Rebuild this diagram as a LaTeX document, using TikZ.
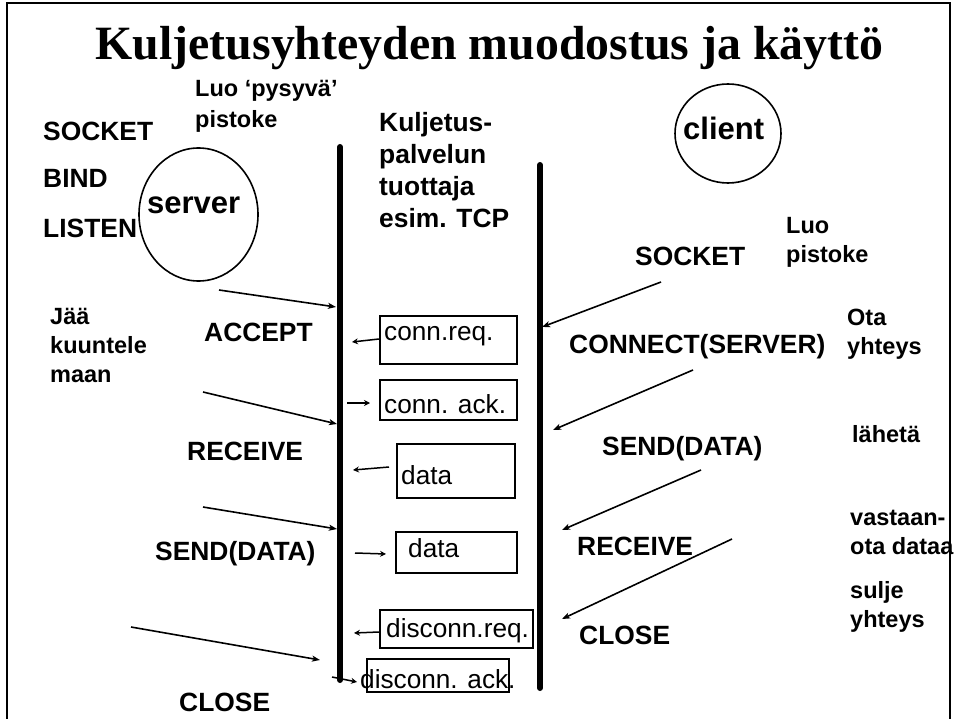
\documentclass[tikz,border=0pt]{standalone}
\usepackage{fontspec}
\setmainfont{Liberation Sans}
\newfontfamily\titlefont{Liberation Serif}
\usetikzlibrary{arrows.meta,shapes.geometric}
\tikzset{
  lab/.style={font=\bfseries\fontsize{26.4}{31.7}\selectfont, inner sep=0pt, anchor=base west, align=left},
  note/.style={font=\bfseries\fontsize{23.5}{29}\selectfont, inner sep=0pt, anchor=base west, align=left},
  role/.style={font=\bfseries\fontsize{31}{36}\selectfont, inner sep=0pt, anchor=base west},
  boxtxt/.style={font=\fontsize{26.2}{30}\selectfont, inner sep=0pt, anchor=base west},
  msgbox/.style={draw, line width=1.8pt, inner sep=0pt, anchor=north west},
  party/.style={draw, ellipse, line width=1.6pt, inner sep=0pt},
  stem/.style={line width=6pt, line cap=round},
  wire/.style={line width=1.6pt, -{Stealth[length=8pt,width=6pt,inset=2pt]}},
  tick/.style={line width=1.5pt, -{Stealth[length=6pt,width=6pt,inset=2pt]}},
}
\begin{document}
\begin{tikzpicture}[x=1pt,y=-1pt]
\useasboundingbox (0,0) rectangle (957,719);
% frame
\draw[line width=2pt] (7,730) -- (7,3) -- (950,3) -- (950,730);
% title
\node[font=\titlefont\bfseries\fontsize{47.8}{52}\selectfont, inner sep=0pt, anchor=base] (title) at (489.5,60) {Kuljetusyhteyden muodostus ja käyttö};
% parties
\node[party, minimum width=119pt, minimum height=133pt] (srv) at (198.5,214.5) {};
\node[role] (srvtxt) at (147,214) {server};
\node[party, minimum width=106pt, minimum height=99pt] (cli) at (728,133.5) {};
\node[role] (clitxt) at (683,140) {client};
% transport provider lines
\coordinate (ltop) at (340,147);
\coordinate (lbot) at (340,680);
\coordinate (rtop) at (540,165);
\coordinate (rbot) at (540,688);
\draw[stem] (ltop) -- (lbot);
\draw[stem] (rtop) -- (rbot);
% left labels (multi-line nodes are placed by the baseline of their last line)
\node[lab] (sock1) at (43,141) {SOCKET};
\node[lab] (bind) at (43,188) {BIND};
\node[lab] (listen) at (43,237) {LISTEN};
\node[note] (luo1) at (195,97) {Luo ‘pysyvä’};
\node[note] (pist1) at (195,128) {pistoke};
\node[lab] (kulj) at (379,227) {Kuljetus-\\palvelun\\tuottaja\\esim. TCP};
\node[note] (jaa) at (50,382) {Jää\\kuuntele\\maan};
\node[lab] (accept) at (204,341) {ACCEPT};
\node[lab] (recv1) at (187,460) {RECEIVE};
\node[lab] (send1) at (155,560) {SEND(DATA)};
\node[lab] (close1) at (179,711) {CLOSE};
% right labels
\node[lab] (sock2) at (635,265) {SOCKET};
\node[note] (luo2) at (786,262) {Luo\\pistoke};
\node[lab] (conn) at (569,353) {CONNECT(SERVER)};
\node[note] (ota) at (847,354) {Ota\\yhteys};
\node[lab] (send2) at (602,455) {SEND(DATA)};
\node[note] (laheta) at (852,442) {lähetä};
\node[lab] (recv2) at (577,555) {RECEIVE};
\node[note] (vast) at (850,554) {vastaan-\\ota dataa};
\node[lab] (close2) at (579,644) {CLOSE};
\node[note] (sulje) at (850,627) {sulje\\yhteys};
% message boxes
\node[msgbox, minimum width=137pt, minimum height=48pt] (reqbox) at (379,315) {};
\node[boxtxt] (reqtxt) at (384,340) {conn.req.};
\node[msgbox, minimum width=137pt, minimum height=40pt] (ackbox) at (379,379) {};
\node[boxtxt] (acktxt) at (384,413) {conn. ack.};
\node[msgbox, minimum width=118pt, minimum height=54pt] (d1box) at (396,443) {};
\node[boxtxt] (d1txt) at (401,484) {data};
\node[msgbox, minimum width=121pt, minimum height=41pt] (d2box) at (395,531) {};
\node[boxtxt] (d2txt) at (408,557) {data};
\node[msgbox, minimum width=153pt, minimum height=38pt] (dreqbox) at (379,609) {};
\node[boxtxt] (dreqtxt) at (386,637) {disconn.req.};
\node[msgbox, minimum width=142pt, minimum height=33pt] (dackbox) at (366,658) {};
\node[boxtxt] (dacktxt) at (360,688) {disconn. ack.};
% small arrows between boxes and provider
\coordinate (t1) at (352,342);
\coordinate (t2a) at (347,403);
\coordinate (t2b) at (370,403);
\coordinate (t3a) at (389,467);
\coordinate (t3b) at (353,470);
\coordinate (t4a) at (355,553);
\coordinate (t4b) at (386,554);
\coordinate (t5a) at (379,632);
\coordinate (t5b) at (354,633);
\coordinate (t6a) at (332,677);
\coordinate (t6b) at (357,682);
\draw[tick] (reqbox.west |- 0,339) -- (t1);
\draw[tick] (t2a) -- (t2b);
\draw[tick] (t3a) -- (t3b);
\draw[tick] (t4a) -- (t4b);
\draw[tick] (t5a) -- (t5b);
\draw[tick] (t6a) -- (t6b);
% server side calls
\coordinate (l1a) at (219,290);
\coordinate (l1b) at (336,307);
\coordinate (l2a) at (203,392);
\coordinate (l2b) at (337,424);
\coordinate (l3a) at (203,507);
\coordinate (l3b) at (337,529);
\coordinate (l4a) at (131,627);
\coordinate (l4b) at (320,660);
\draw[wire] (l1a) -- (l1b);
\draw[wire] (l2a) -- (l2b);
\draw[wire] (l3a) -- (l3b);
\draw[wire] (l4a) -- (l4b);
% client side calls
\coordinate (r1a) at (661,282);
\coordinate (r1b) at (542,327);
\coordinate (r2a) at (693,370);
\coordinate (r2b) at (553,430);
\coordinate (r3a) at (701,470);
\coordinate (r3b) at (562,530);
\coordinate (r4a) at (732,539);
\coordinate (r4b) at (562,619);
\draw[wire] (r1a) -- (r1b);
\draw[wire] (r2a) -- (r2b);
\draw[wire] (r3a) -- (r3b);
\draw[wire] (r4a) -- (r4b);
\end{tikzpicture}
\end{document}
